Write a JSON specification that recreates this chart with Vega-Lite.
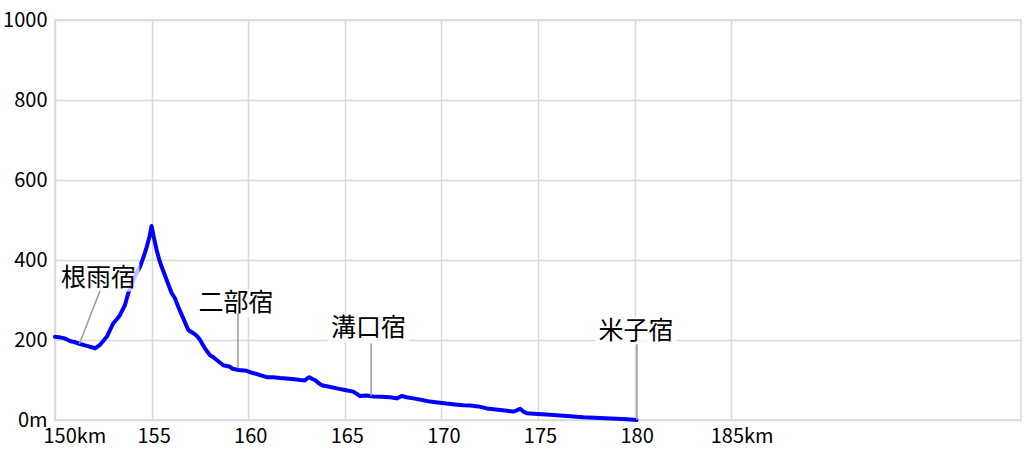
{
  "$schema": "https://vega.github.io/schema/vega-lite/v6.json",
  "width": 966,
  "height": 400,
  "autosize": {"type": "none"},
  "padding": {"left": 55, "top": 20, "right": 3, "bottom": 35},
  "background": "white",
  "config": {
    "view": {"stroke": "#d9d9d9", "strokeWidth": 1.5},
    "font": "Noto Sans CJK JP",
    "axis": {
      "labelFont": "Noto Sans CJK JP",
      "labelFontSize": 20,
      "labelColor": "#000000",
      "gridColor": "#d9d9d9",
      "gridWidth": 1.5,
      "domain": false,
      "ticks": false,
      "title": null
    }
  },
  "datasets": {
    "profile": [
      {"km": 150.0, "elev": 208}, {"km": 150.3, "elev": 206}, {"km": 150.5, "elev": 204},
      {"km": 150.8, "elev": 197}, {"km": 151.0, "elev": 195}, {"km": 151.3, "elev": 190},
      {"km": 151.6, "elev": 186}, {"km": 151.9, "elev": 182}, {"km": 152.07, "elev": 179},
      {"km": 152.33, "elev": 188}, {"km": 152.68, "elev": 208}, {"km": 152.85, "elev": 225},
      {"km": 153.02, "elev": 242}, {"km": 153.2, "elev": 252}, {"km": 153.36, "elev": 262},
      {"km": 153.62, "elev": 287}, {"km": 153.79, "elev": 317}, {"km": 154.05, "elev": 350},
      {"km": 154.2, "elev": 365}, {"km": 154.4, "elev": 383}, {"km": 154.6, "elev": 410},
      {"km": 154.75, "elev": 433}, {"km": 154.9, "elev": 460}, {"km": 155.0, "elev": 485},
      {"km": 155.1, "elev": 460}, {"km": 155.26, "elev": 425}, {"km": 155.4, "elev": 400},
      {"km": 155.52, "elev": 383}, {"km": 155.78, "elev": 350}, {"km": 156.04, "elev": 317},
      {"km": 156.2, "elev": 305}, {"km": 156.38, "elev": 283}, {"km": 156.64, "elev": 254},
      {"km": 156.9, "elev": 225}, {"km": 157.16, "elev": 217}, {"km": 157.35, "elev": 210},
      {"km": 157.51, "elev": 200}, {"km": 157.76, "elev": 179}, {"km": 158.02, "elev": 162},
      {"km": 158.2, "elev": 157}, {"km": 158.37, "elev": 150}, {"km": 158.71, "elev": 137},
      {"km": 159.06, "elev": 133}, {"km": 159.2, "elev": 128}, {"km": 159.49, "elev": 125},
      {"km": 159.92, "elev": 123}, {"km": 160.2, "elev": 118}, {"km": 160.44, "elev": 115},
      {"km": 160.7, "elev": 111}, {"km": 160.96, "elev": 107}, {"km": 161.3, "elev": 107},
      {"km": 161.65, "elev": 105}, {"km": 161.99, "elev": 104}, {"km": 162.4, "elev": 102},
      {"km": 162.7, "elev": 100}, {"km": 162.94, "elev": 99}, {"km": 163.05, "elev": 104},
      {"km": 163.16, "elev": 107}, {"km": 163.3, "elev": 103}, {"km": 163.46, "elev": 100},
      {"km": 163.65, "elev": 92}, {"km": 163.8, "elev": 87}, {"km": 164.2, "elev": 83},
      {"km": 164.58, "elev": 79}, {"km": 165.0, "elev": 75}, {"km": 165.44, "elev": 71},
      {"km": 165.6, "elev": 66}, {"km": 165.79, "elev": 60}, {"km": 166.1, "elev": 61},
      {"km": 166.48, "elev": 59}, {"km": 166.9, "elev": 58}, {"km": 167.34, "elev": 57},
      {"km": 167.69, "elev": 54}, {"km": 167.94, "elev": 60}, {"km": 168.2, "elev": 57},
      {"km": 168.55, "elev": 54}, {"km": 169.0, "elev": 50}, {"km": 169.41, "elev": 46},
      {"km": 169.8, "elev": 44}, {"km": 170.27, "elev": 41}, {"km": 170.7, "elev": 39},
      {"km": 171.13, "elev": 37}, {"km": 171.5, "elev": 36}, {"km": 171.91, "elev": 34},
      {"km": 172.35, "elev": 29}, {"km": 172.7, "elev": 27}, {"km": 173.03, "elev": 25},
      {"km": 173.4, "elev": 23}, {"km": 173.72, "elev": 21}, {"km": 173.9, "elev": 24},
      {"km": 174.07, "elev": 28}, {"km": 174.25, "elev": 21}, {"km": 174.42, "elev": 17},
      {"km": 175.0, "elev": 15}, {"km": 175.62, "elev": 13}, {"km": 176.5, "elev": 10},
      {"km": 177.35, "elev": 7}, {"km": 178.2, "elev": 5}, {"km": 179.07, "elev": 3},
      {"km": 179.6, "elev": 2}, {"km": 180.1, "elev": 0}
    ],
    "stations": [
      {"name": "根雨宿", "label_km": 152.25, "label_elev": 356, "line_km": 152.33, "line_top": 323, "point_km": 151.26, "point_elev": 190},
      {"name": "二部宿", "label_km": 159.37, "label_elev": 292, "line_km": 159.47, "line_top": 267, "point_km": 159.47, "point_elev": 130},
      {"name": "溝口宿", "label_km": 166.23, "label_elev": 230, "line_km": 166.36, "line_top": 192, "point_km": 166.36, "point_elev": 60},
      {"name": "米子宿", "label_km": 180.07, "label_elev": 222, "line_km": 180.12, "line_top": 190, "point_km": 180.12, "point_elev": 0}
    ]
  },
  "layer": [
    {
      "data": {"name": "profile"},
      "mark": {"type": "line", "color": "#0000ff", "strokeWidth": 4, "strokeJoin": "round", "strokeCap": "round"},
      "encoding": {
        "x": {
          "field": "km", "type": "quantitative",
          "scale": {"domain": [150, 200], "nice": false, "zero": false},
          "axis": {
            "values": [150, 155, 160, 165, 170, 175, 180, 185],
            "grid": true,
            "labelPadding": 6,
            "labelExpr": "datum.value == 150 ? '150km' : datum.value == 185 ? '185km' : datum.label",
            "labelAlign": {"condition": {"test": "datum.value == 150 || datum.value == 185", "value": "left"}, "value": "center"},
            "labelOffset": {"condition": [{"test": "datum.value == 150", "value": -12}, {"test": "datum.value == 185", "value": -21}], "value": 2},
            "labelFlush": false,
            "labelOverlap": false
          }
        },
        "y": {
          "field": "elev", "type": "quantitative",
          "scale": {"domain": [0, 1000], "nice": false},
          "axis": {
            "values": [0, 200, 400, 600, 800, 1000],
            "grid": true,
            "format": "d",
            "labelPadding": 8,
            "labelExpr": "datum.value == 0 ? '0m' : datum.label",
            "labelFlush": false,
            "labelOverlap": false
          }
        }
      }
    },
    {
      "data": {"name": "stations"},
      "mark": {"type": "rect", "color": "white", "opacity": 0.75, "xOffset": -41, "x2Offset": 41, "yOffset": -14, "y2Offset": 14},
      "encoding": {
        "x": {"field": "label_km", "type": "quantitative"},
        "x2": {"field": "label_km"},
        "y": {"field": "label_elev", "type": "quantitative"},
        "y2": {"field": "label_elev"}
      }
    },
    {
      "data": {"name": "stations"},
      "mark": {"type": "rule", "color": "#999999", "strokeWidth": 1.5},
      "encoding": {
        "x": {"field": "line_km", "type": "quantitative"},
        "y": {"field": "line_top", "type": "quantitative"},
        "x2": {"field": "point_km"},
        "y2": {"field": "point_elev"}
      }
    },
    {
      "data": {"name": "stations"},
      "mark": {"type": "text", "font": "Noto Sans CJK JP", "fontSize": 25, "color": "#000000", "align": "center", "baseline": "middle"},
      "encoding": {
        "x": {"field": "label_km", "type": "quantitative"},
        "y": {"field": "label_elev", "type": "quantitative"},
        "text": {"field": "name"}
      }
    }
  ]
}
